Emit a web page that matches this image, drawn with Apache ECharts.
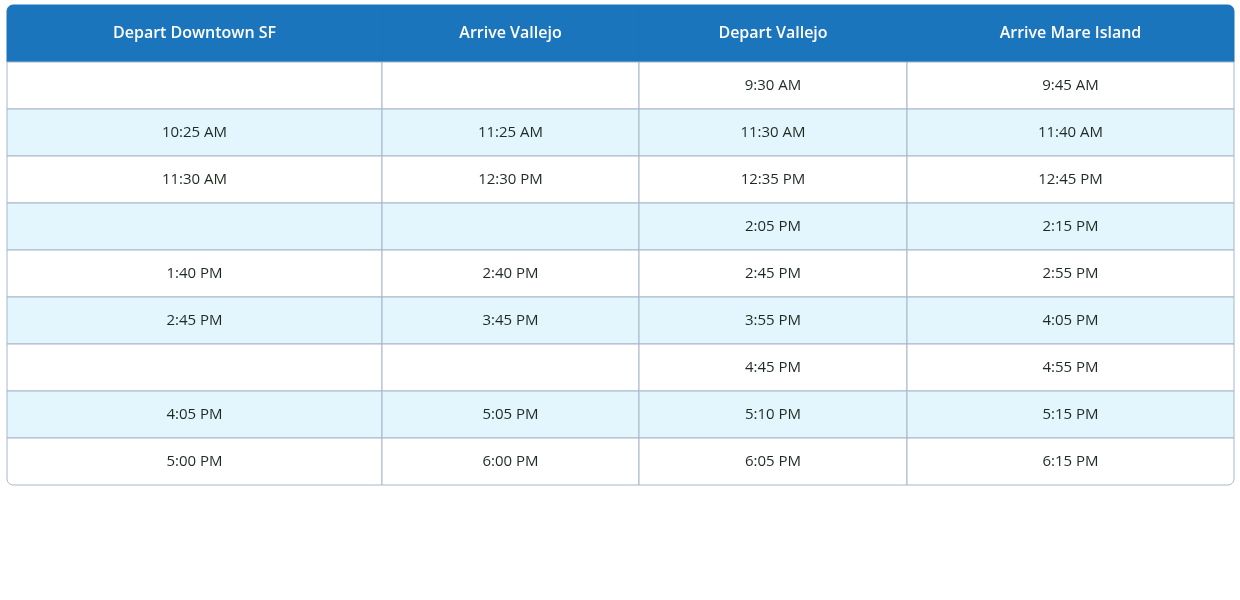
<!DOCTYPE html>
<html>
<head>
<meta charset="utf-8">
<script src="https://cdn.jsdelivr.net/npm/echarts@6/dist/echarts.min.js"></script>
<style>
  html, body { margin: 0; padding: 0; background: #fff; }
  #chart { width: 1240px; height: 600px; }
</style>
</head>
<body>
<div id="chart"></div>
<script>
const headers = ['Depart Downtown SF', 'Arrive Vallejo', 'Depart Vallejo', 'Arrive Mare Island'];
const departSF = ['', '10:25 AM', '11:30 AM', '', '1:40 PM', '2:45 PM', '', '4:05 PM', '5:00 PM'];
const arriveVallejo = ['', '11:25 AM', '12:30 PM', '', '2:40 PM', '3:45 PM', '', '5:05 PM', '6:00 PM'];
const departVallejo = ['9:30 AM', '11:30 AM', '12:35 PM', '2:05 PM', '2:45 PM', '3:55 PM', '4:45 PM', '5:10 PM', '6:05 PM'];
const arriveMare = ['9:45 AM', '11:40 AM', '12:45 PM', '2:15 PM', '2:55 PM', '4:05 PM', '4:55 PM', '5:15 PM', '6:15 PM'];

// layout (column widths and row heights in table units)
const colWidths = [375, 257, 268, 327];
const headerH = 57, rowH = 47;
const columns = [departSF, arriveVallejo, departVallejo, arriveMare];
const nRows = departSF.length;
const totalW = colWidths.reduce((a, b) => a + b, 0);
const totalH = headerH + rowH * nRows;

const data = [];
headers.forEach((h, c) => data.push([c, -1, h]));
columns.forEach((col, c) => col.forEach((v, r) => data.push([c, r, v])));

const chart = echarts.init(document.getElementById('chart'));
chart.setOption({
  animation: false,
  grid: { left: 7, right: 6, top: 5, height: totalH },
  xAxis: { type: 'value', min: 0, max: totalW, show: false },
  yAxis: { type: 'value', min: 0, max: totalH, inverse: true, show: false },
  series: [{
    type: 'custom',
    data: data,
    renderItem: function (params, api) {
      const c = api.value(0), r = api.value(1);
      const text = data[params.dataIndex][2];
      let x0 = 0;
      for (let i = 0; i < c; i++) x0 += colWidths[i];
      const x1 = x0 + colWidths[c];
      const y0 = r < 0 ? 0 : headerH + r * rowH;
      const y1 = r < 0 ? headerH : y0 + rowH;
      const p0 = api.coord([x0, y0]);
      const p1 = api.coord([x1, y1]);
      const isHeader = r < 0;
      const last = c === colWidths.length - 1;
      let radius = [0, 0, 0, 0];
      if (isHeader && c === 0) radius = [6, 0, 0, 0];
      if (isHeader && last) radius = [0, 6, 0, 0];
      if (r === nRows - 1 && c === 0) radius = [0, 0, 0, 6];
      if (r === nRows - 1 && last) radius = [0, 0, 6, 0];
      const fill = isHeader ? '#1b75bc' : (r % 2 === 1 ? '#e3f6fd' : '#ffffff');
      return {
        type: 'group',
        children: [{
          type: 'rect',
          shape: { x: p0[0], y: p0[1], width: p1[0] - p0[0], height: p1[1] - p0[1], r: radius },
          style: { fill: fill, stroke: isHeader ? '#1b75bc' : '#a7b6c8', lineWidth: 1 }
        }, {
          type: 'text',
          style: {
            x: (p0[0] + p1[0]) / 2, y: (p0[1] + p1[1]) / 2,
            text: text, align: 'center', verticalAlign: 'middle',
            fill: isHeader ? '#ffffff' : '#1e2b22',
            font: (isHeader ? '600 16px' : '500 15px') + ' "Open Sans", sans-serif'
          }
        }]
      };
    }
  }]
});
</script>
</body>
</html>
